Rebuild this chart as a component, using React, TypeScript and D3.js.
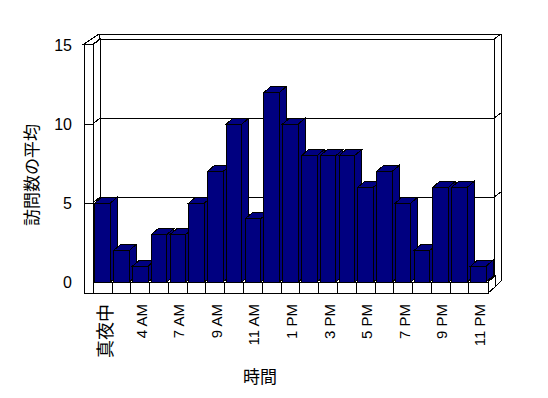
import React, { useEffect } from 'react';
import * as d3 from 'd3';

// hours shown in the chart (only every other one gets a label)
const categories = ['真夜中', '2 AM', '4 AM', '5 AM', '7 AM', '8 AM', '9 AM', '10 AM', '11 AM', '12 PM', '1 PM',
  '2 PM', '3 PM', '4 PM', '5 PM', '6 PM', '7 PM', '8 PM', '9 PM', '10 PM', '11 PM'];
const values = [5, 2, 1, 3, 3, 5, 7, 10, 4, 12, 10, 8, 8, 8, 6, 7, 5, 2, 6, 6, 1];
const yTicks = [0, 5, 10, 15];
const gridValues = [5, 10];

const W = 548;
const H = 398;
const DX = 7;   // depth offset
const DY = -6;
const CJK = /[\u3040-\u30ff\u4e00-\u9fff]/;

const App = () => {
  useEffect(() => {
    document.body.style.margin = '0';
  }, []);

  const x0 = 93, x1 = 488, yTop = 45, yBot = 282;
  const x = d3.scaleBand<string>().domain(categories).range([x0, x1]).paddingInner(0.17).paddingOuter(0.1);
  const y = d3.scaleLinear().domain([0, 15]).range([yBot, yTop]);
  const bw = x.bandwidth();
  const step = x.step();
  const pts = (p: number[][]) => p.map(d => d.join(',')).join(' ');

  const backL = x0 + DX, backR = x1 + DX - 1, backTop = yTop + DY, backBot = yBot + DY;
  const font = '"Noto Sans CJK JP", "Liberation Sans", sans-serif';
  const latin = '"Liberation Sans", sans-serif';

  return (
    <svg width={W} height={H} style={{ position: 'absolute', left: 0, top: 0 }} shapeRendering="crispEdges"
      fontFamily={font}>
      <rect width={W} height={H} fill="#fff" />
      {/* back wall frame */}
      <polygon points={pts([[backL - 1, backTop - 5], [backR + 7, backTop - 5], [backR + 7, yBot - 1], [backR + 1, yBot + 5], [backL - 1, yBot + 5]])}
        fill="#fff" stroke="#000" />
      <rect x={backL} y={backTop} width={backR - backL} height={backBot - backTop} fill="#fff" stroke="#000" />
      <line x1={backR} y1={backTop} x2={backR + 7} y2={backTop - 5} stroke="#000" />
      {/* left wall inner face and top */}
      <polygon points={pts([[x0, y(15)], [backL, backTop], [backL, backBot], [x0, yBot]])} fill="#fff" stroke="#000" />
      <polygon points={pts([[x0 - 9, y(15) - 1], [backL - 1, backTop - 5], [backL, backTop], [x0, y(15) - 1]])} fill="#fff" stroke="#000" />
      <rect x={x0 - 9} y={y(15) - 1} width={9} height={yBot + 11 - y(15) + 1} fill="#fff" stroke="#000" />
      {/* gridlines */}
      {gridValues.map(v => (
        <g key={v}>
          <polyline points={pts([[x0, y(v)], [backL, y(v) + DY], [backR, y(v) + DY], [backR + 7, y(v) + DY - 5]])}
            fill="none" stroke="#000" />
          <line x1={x0 - 9} y1={y(v)} x2={x0} y2={y(v)} stroke="#000" />
        </g>
      ))}
      {/* floor */}
      <polygon points={pts([[x1, yBot], [x1 + DX, yBot + DY], [x1 + DX, yBot + 5], [x1, yBot + 11]])} fill="#fff" stroke="#000" />
      <rect x={x0} y={yBot} width={x1 - x0} height={11} fill="#fff" stroke="#000" />
      {categories.slice(1).map(c => {
        const bx = (x(c) as number) - step * 0.17 / 2;
        return <line key={c} x1={bx} y1={yBot} x2={bx} y2={yBot + 11} stroke="#000" />;
      })}
      {/* bars */}
      {values.map((v, i) => {
        const bx = x(categories[i]) as number;
        const yt = y(v);
        return (
          <g key={i} fill="#000080" stroke="#000">
            <polygon points={pts([[bx + bw, yt], [bx + bw + DX, yt + DY], [bx + bw + DX, yBot + DY], [bx + bw, yBot]])} />
            <polygon points={pts([[bx, yt], [bx + DX, yt + DY], [bx + bw + DX, yt + DY], [bx + bw, yt]])} />
            <rect x={bx} y={yt} width={bw} height={yBot - yt} />
          </g>
        );
      })}
      {/* y tick labels */}
      {yTicks.map(t => (
        <text key={t} x={72} y={y(t)} textAnchor="end" dominantBaseline="central" fontSize={16}
          fontFamily={latin}>{t}</text>
      ))}
      {/* x labels */}
      {categories.map((c, i) => i % 2 === 0 ? (
        <text key={c} transform={`translate(${(x(c) as number) + bw / 2 + 1},304) rotate(-90)`} textAnchor="end"
          dominantBaseline="central" fontSize={CJK.test(c) ? 18 : 15} fill="#000"
          fontFamily={CJK.test(c) ? font : latin}>{c}</text>
      ) : null)}
      {/* axis titles */}
      <text x={260} y={375} textAnchor="middle" dominantBaseline="central" fontSize={17}>時間</text>
      <text transform="translate(30,175) rotate(-90)" textAnchor="middle" dominantBaseline="central" fontSize={17}>訪問数の平均</text>
    </svg>
  );
};

export default App;
